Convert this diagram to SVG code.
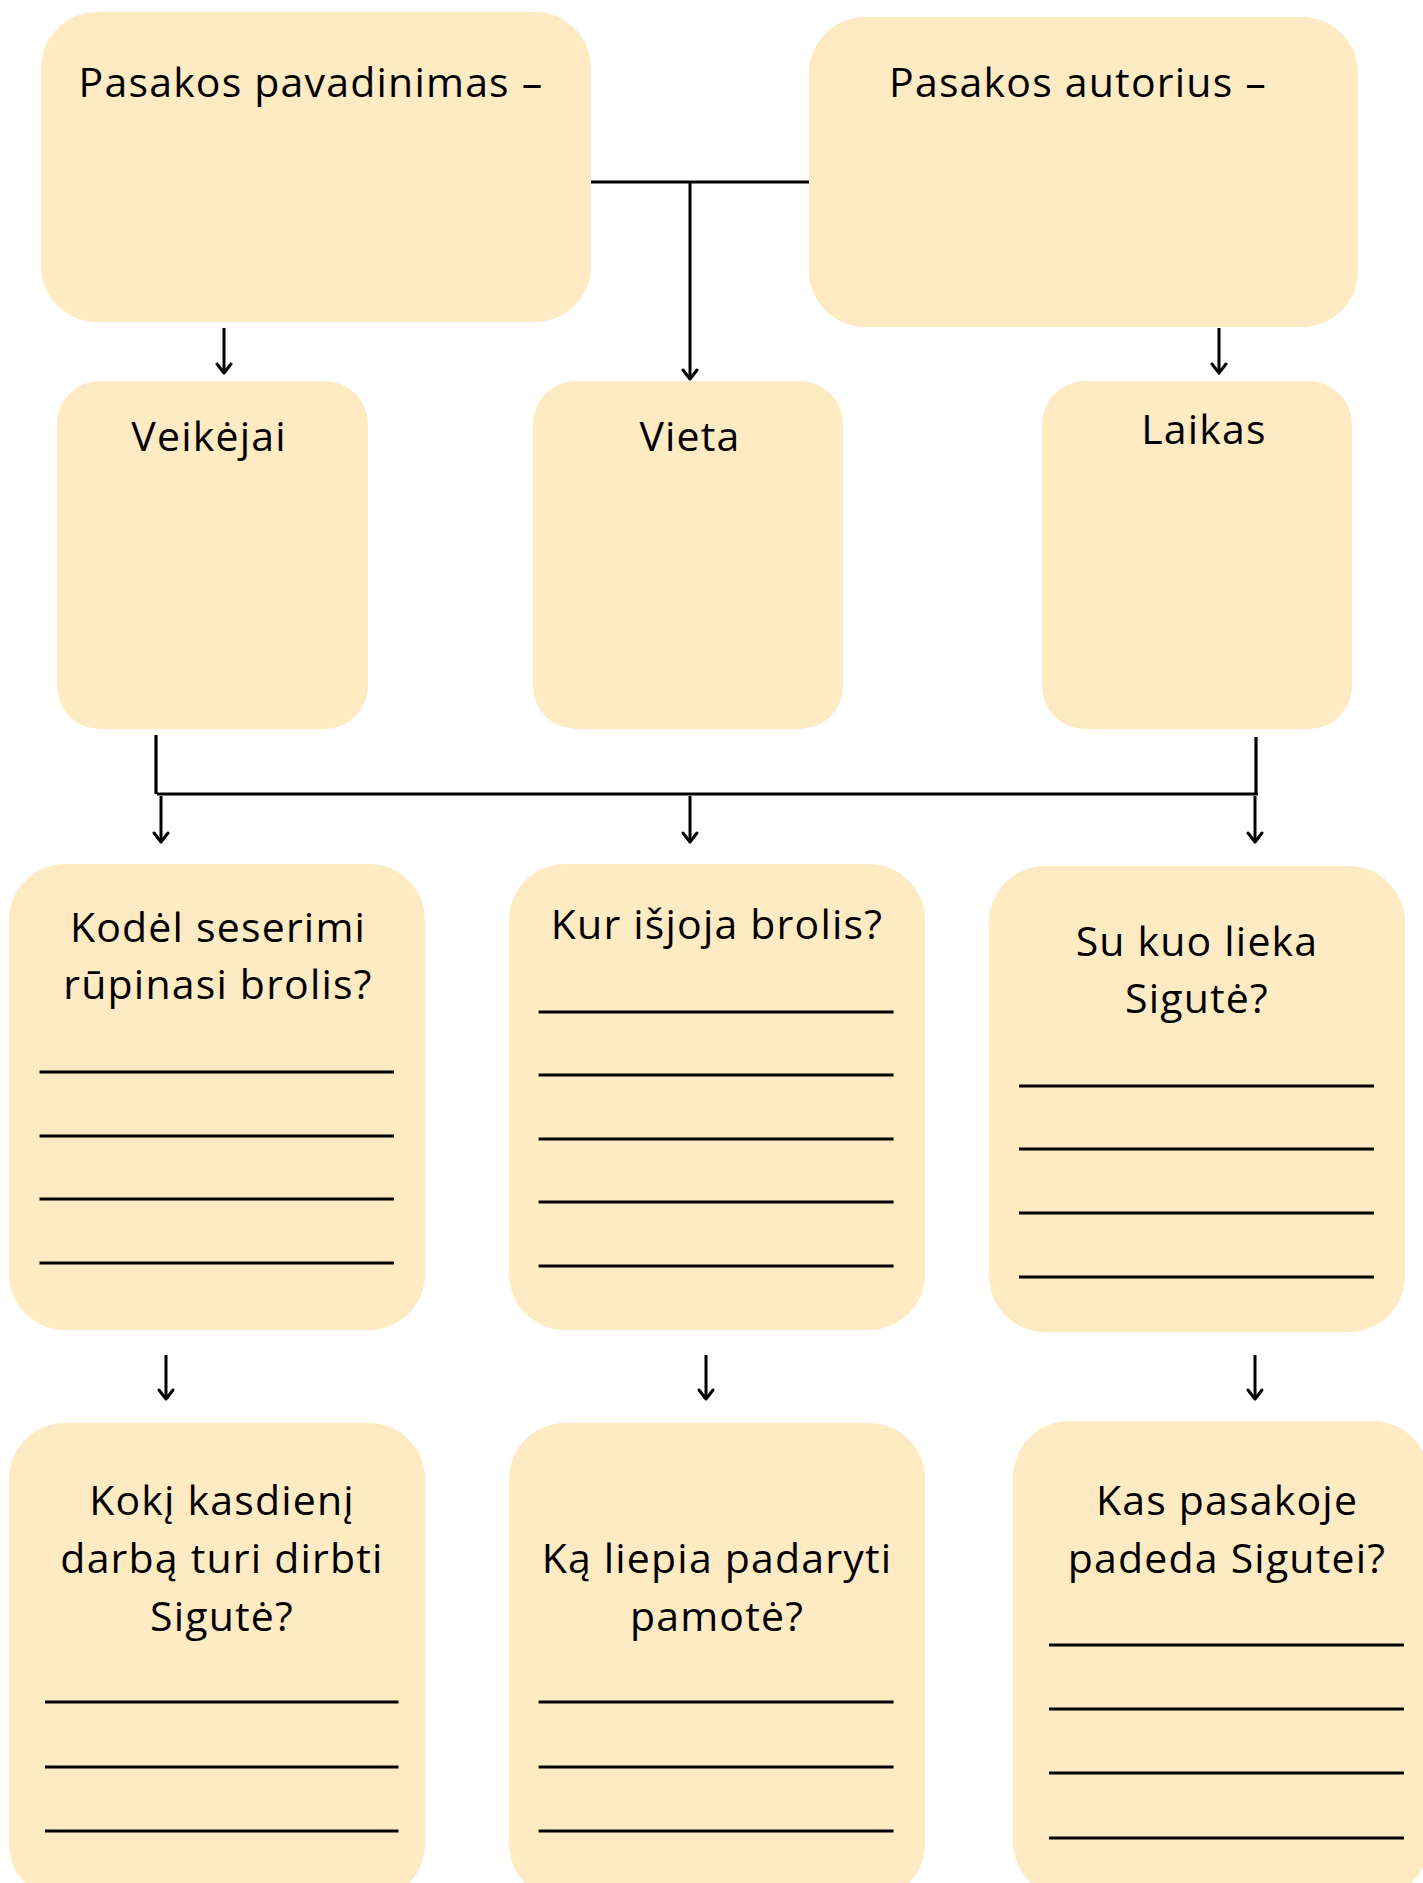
<svg xmlns="http://www.w3.org/2000/svg" width="1423" height="1883" viewBox="0 0 1423 1883">
<defs>
<style>
.box{fill:#FEEAC3}
.t{font-family:"Open Sans","Noto Sans","DejaVu Sans",sans-serif;font-size:41px;letter-spacing:1.2px;fill:#000;text-anchor:middle}
.ln{stroke:#000;stroke-width:3.2;fill:none}
.c{stroke:#000;stroke-width:3.2;fill:none}
.a{stroke:#000;stroke-width:3;fill:none;marker-end:url(#ah)}
</style>
<marker id="ah" markerUnits="userSpaceOnUse" viewBox="-12 -10 14 20" markerWidth="14" markerHeight="20" refX="0" refY="0" orient="auto" overflow="visible">
<path d="M-9,-7 L0,0 L-9,7" fill="none" stroke="#000" stroke-width="3" stroke-linecap="round" stroke-linejoin="round"/>
</marker>
</defs>
<rect width="1423" height="1883" fill="#fff"/>

<g id="n1"><rect class="box" x="41" y="12" width="550" height="310" rx="56"/><text class="t" x="311" y="97">Pasakos pavadinimas –</text></g>
<g id="n2"><rect class="box" x="809" y="17" width="549" height="310" rx="56"/><text class="t" x="1078" y="97">Pasakos autorius –</text></g>
<g id="n3"><rect class="box" x="57" y="381" width="311" height="348" rx="43"/><text class="t" x="209" y="451">Veikėjai</text></g>
<g id="n4"><rect class="box" x="533" y="381" width="310" height="348" rx="43"/><text class="t" x="690" y="451">Vieta</text></g>
<g id="n5"><rect class="box" x="1042" y="381" width="310" height="348" rx="43"/><text class="t" x="1204" y="444">Laikas</text></g>

<g id="n6"><rect class="box" x="9" y="864" width="416" height="466" rx="56"/>
<text class="t" x="218" y="942">Kodėl seserimi</text><text class="t" x="218" y="999">rūpinasi brolis?</text>
<path class="ln" d="M39.5,1072H394M39.5,1136H394M39.5,1199H394M39.5,1263H394"/></g>
<g id="n7"><rect class="box" x="509" y="864" width="416" height="466" rx="56"/>
<text class="t" x="717" y="939">Kur išjoja brolis?</text>
<path class="ln" d="M538.6,1012H893.6M538.6,1075H893.6M538.6,1139H893.6M538.6,1202H893.6M538.6,1266H893.6"/></g>
<g id="n8"><rect class="box" x="989" y="866" width="416" height="466" rx="56"/>
<text class="t" x="1197" y="956">Su kuo lieka</text><text class="t" x="1197" y="1013">Sigutė?</text>
<path class="ln" d="M1019,1086H1374M1019,1149H1374M1019,1213H1374M1019,1277H1374"/></g>

<g id="n9"><rect class="box" x="9" y="1423" width="416" height="477" rx="56"/>
<text class="t" x="222" y="1515">Kokį kasdienį</text><text class="t" x="222" y="1573">darbą turi dirbti</text><text class="t" x="222" y="1631">Sigutė?</text>
<path class="ln" d="M45,1702H398.5M45,1767H398.5M45,1831H398.5"/></g>
<g id="n10"><rect class="box" x="509" y="1423" width="416" height="477" rx="56"/>
<text class="t" x="717" y="1573">Ką liepia padaryti</text><text class="t" x="717" y="1631">pamotė?</text>
<path class="ln" d="M538.6,1702H893.6M538.6,1767H893.6M538.6,1831H893.6"/></g>
<g id="n11"><rect class="box" x="1013" y="1421" width="416" height="477" rx="56"/>
<text class="t" x="1227" y="1515">Kas pasakoje</text><text class="t" x="1227" y="1573">padeda Sigutei?</text>
<path class="ln" d="M1049,1645H1404M1049,1709H1404M1049,1773H1404M1049,1838H1404"/></g>

<g id="connectors">
<path class="c" d="M591,182H809"/>
<path class="a" d="M690,182V379"/>
<path class="a" d="M224,328V373"/>
<path class="a" d="M1219,328V373"/>
<path class="c" stroke-width="2.5" d="M156,735V794"/>
<path class="c" stroke-width="2.5" d="M1256,737V794"/>
<path class="c" stroke-width="4" d="M157,794H1258"/>
<path class="a" d="M161,796V842"/>
<path class="a" d="M690,796V842"/>
<path class="a" d="M1255,796V842"/>
<path class="a" d="M166,1355V1399"/>
<path class="a" d="M706,1355V1399"/>
<path class="a" d="M1255,1355V1399"/>
</g>
</svg>
